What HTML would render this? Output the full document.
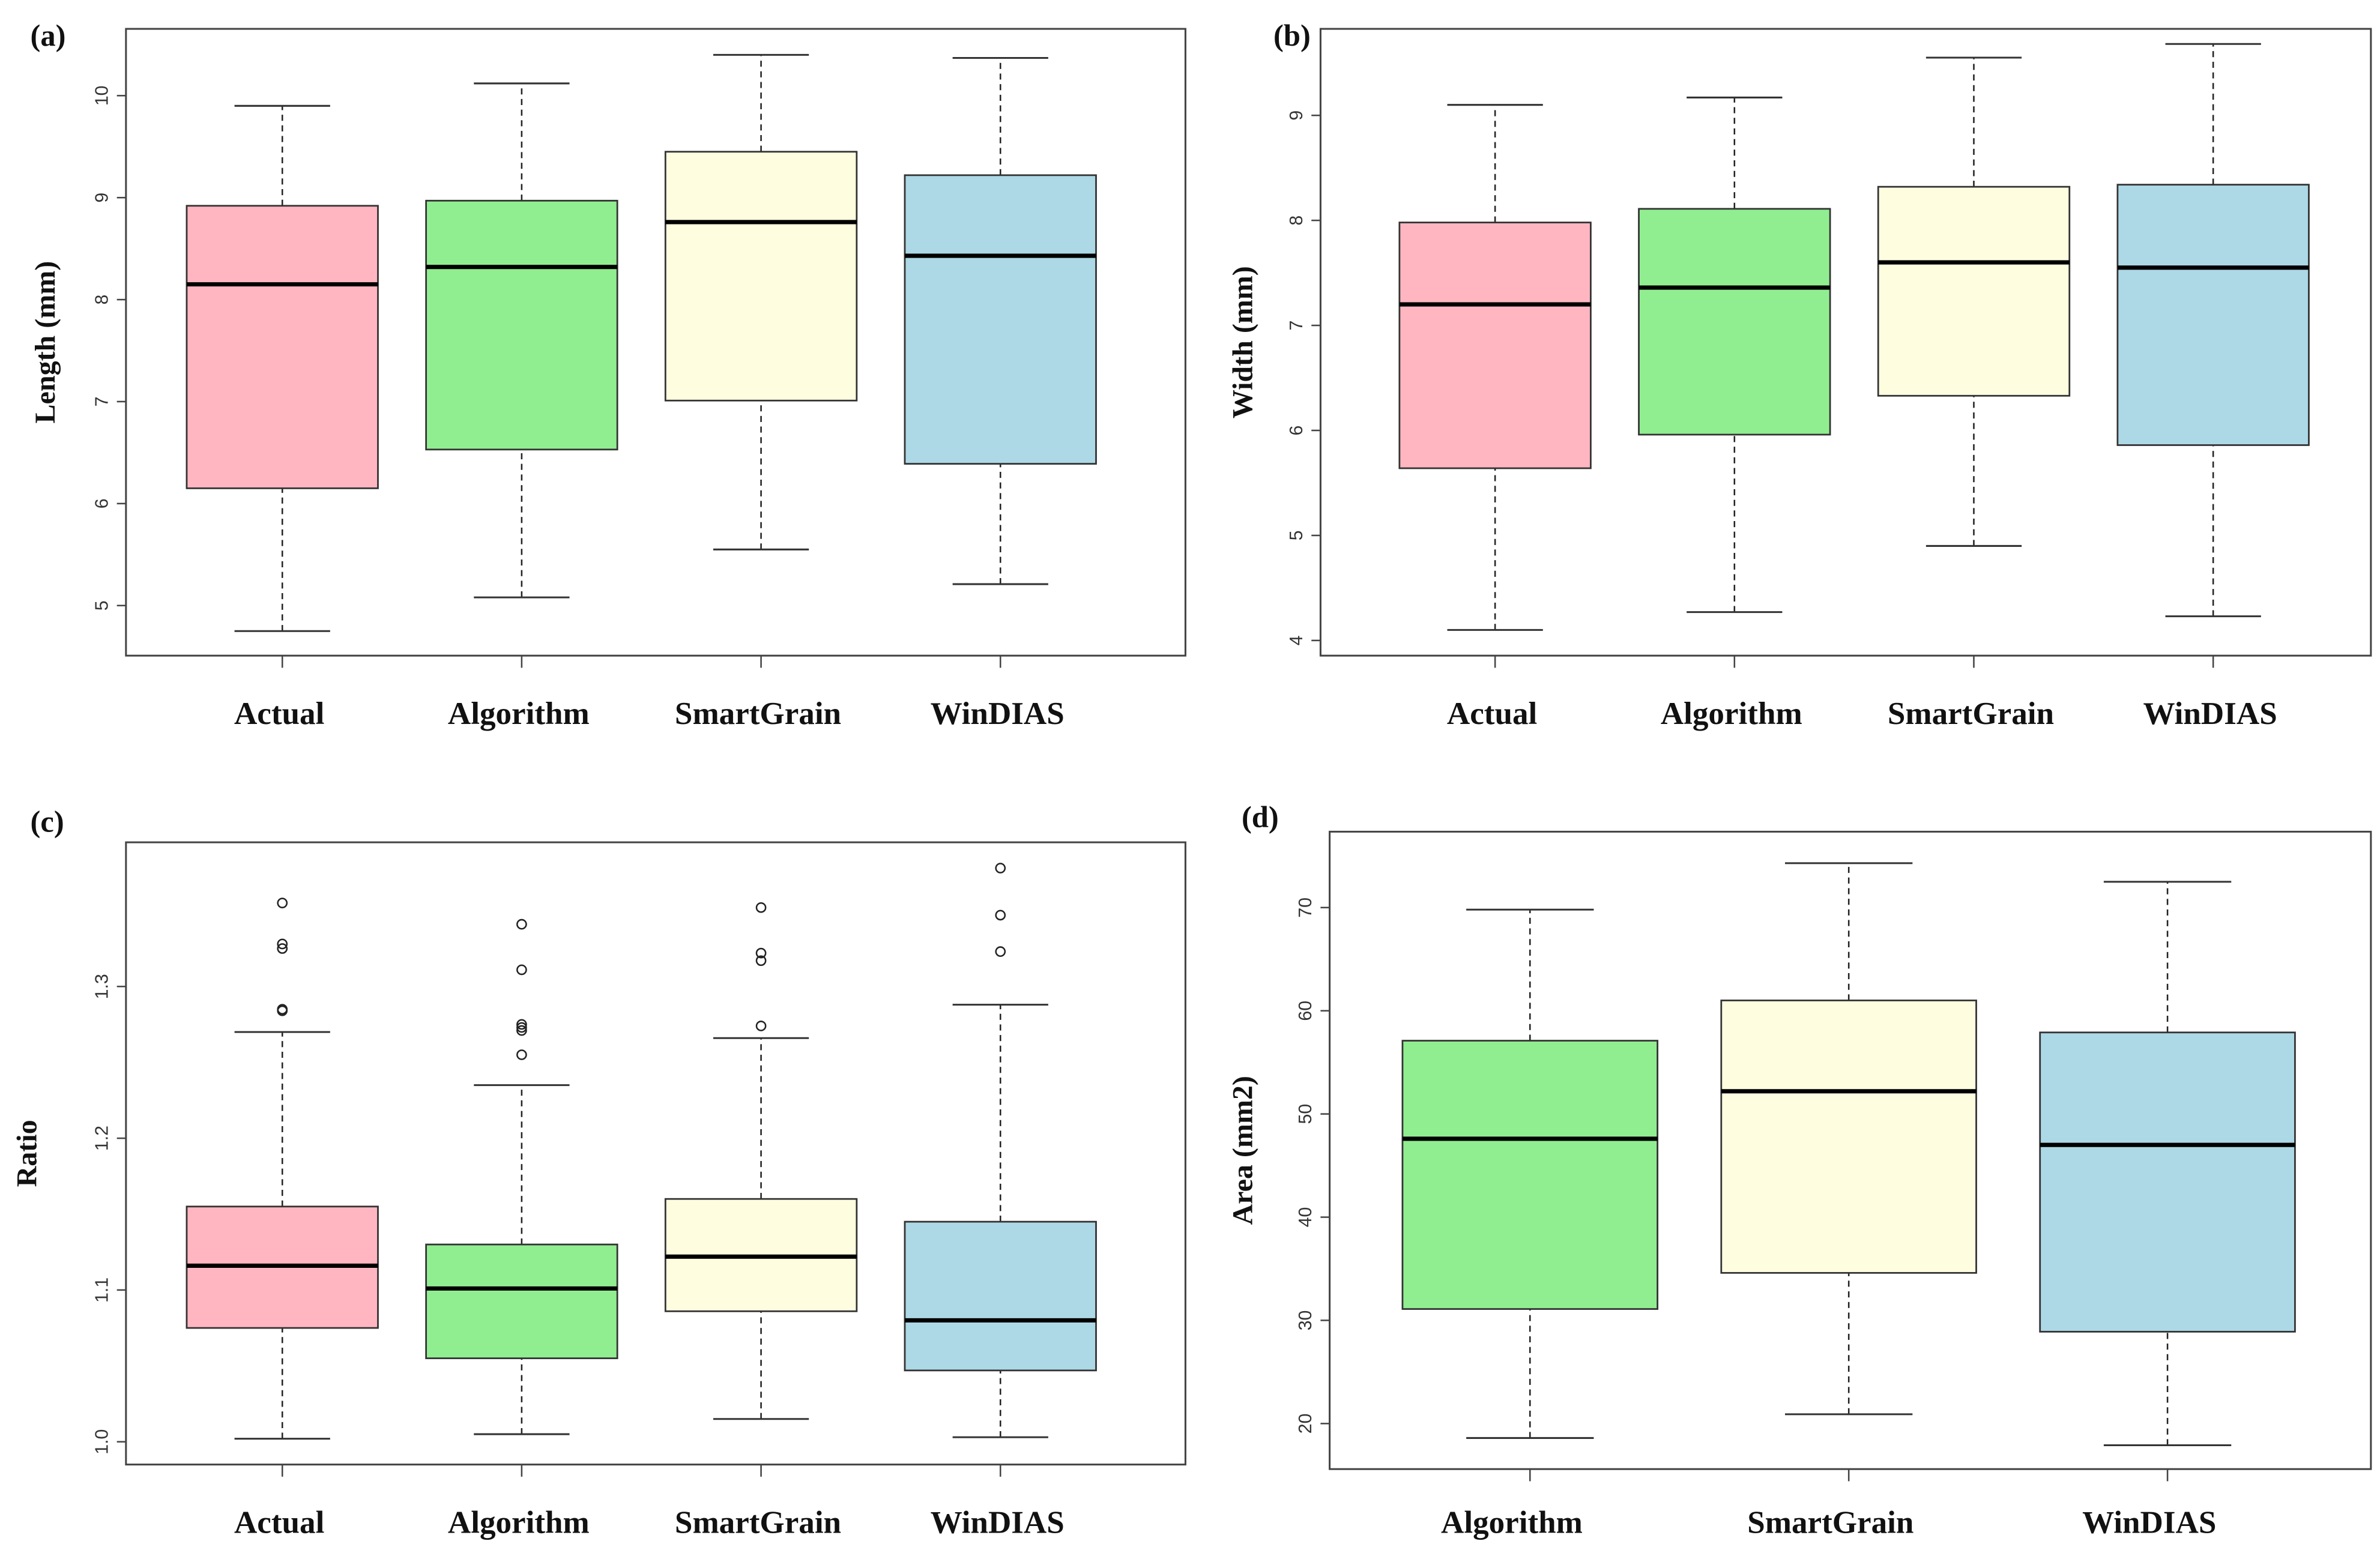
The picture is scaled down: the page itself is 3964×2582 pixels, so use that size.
<!DOCTYPE html>
<html><head><meta charset="utf-8"><style>
html,body{margin:0;padding:0;background:#fff;}
svg{display:block;}
.tick{font-family:"Liberation Sans",sans-serif;font-size:12px;fill:#333;}
.cat{font-family:"Liberation Serif",serif;font-weight:bold;font-size:21px;fill:#111;}
.ttl{font-family:"Liberation Serif",serif;font-weight:bold;font-size:19px;fill:#111;}
.pl{font-family:"Liberation Serif",serif;font-weight:bold;font-size:20px;fill:#111;}
</style></head><body>
<svg id="fig" width="3964" height="2582" viewBox="0 0 1568 1021.3" xmlns="http://www.w3.org/2000/svg"></svg>
<script>
// Panel data
const catsABC = ["Actual","Algorithm","SmartGrain","WinDIAS"];
const catsD = ["Algorithm","SmartGrain","WinDIAS"];
const colorsABC = ["#FFB6C1","#90EE90","#FFFDE0","#ADD8E6"];
const colorsD = ["#90EE90","#FFFDE0","#ADD8E6"];
// [lowWhisker, Q1, median, Q3, highWhisker]
const lengthStats = [[4.75,6.15,8.15,8.92,9.9],[5.08,6.53,8.32,8.97,10.12],[5.55,7.01,8.76,9.45,10.4],[5.21,6.39,8.43,9.22,10.37]];
const widthStats = [[4.1,5.64,7.2,7.98,9.1],[4.27,5.96,7.36,8.11,9.17],[4.9,6.33,7.6,8.32,9.55],[4.23,5.86,7.55,8.34,9.68]];
const ratioStats = [[1.002,1.075,1.116,1.155,1.27],[1.005,1.055,1.101,1.13,1.235],[1.015,1.086,1.122,1.16,1.266],[1.003,1.047,1.08,1.145,1.288]];
const ratioOutliers = [[1.355,1.328,1.325,1.285,1.284],[1.341,1.311,1.275,1.273,1.271,1.255],[1.352,1.322,1.317,1.274],[1.378,1.347,1.323]];
const areaStats = [[18.6,31.1,47.6,57.1,69.8],[20.9,34.6,52.2,61.0,74.3],[17.9,28.9,47.0,57.9,72.5]];
const lengthTicks = [5,6,7,8,9,10];
const widthTicks = [4,5,6,7,8,9];
const ratioTicks = [1.0,1.1,1.2,1.3];
const ratioTickLabels = ["1.0","1.1","1.2","1.3"];
const areaTicks = [20,30,40,50,60,70];

const NS="http://www.w3.org/2000/svg";
const svg=document.getElementById('fig');
function mk(tag,attrs,parent){const e=document.createElementNS(NS,tag);for(const k in attrs)e.setAttribute(k,attrs[k]);(parent||svg).appendChild(e);return e;}

function panel(o){
  const g=mk('g',{});
  
  
  const y=v=>o.y0px+(v-o.y0)*(o.y1px-o.y0px)/(o.y1-o.y0);
  const cx=i=>o.c0+o.step*i;
  const hw=o.hw;
  const frame=mk('rect',{x:o.L,y:o.T,width:o.R-o.L,height:o.B-o.T,fill:'none',stroke:'#444','stroke-width':1.2},g);
  
  
  o.ticks.forEach((t,i)=>{
    const ty=y(t);
    mk('line',{x1:o.L-6,x2:o.L,y1:ty,y2:ty,stroke:'#444','stroke-width':1},g);
    const tx=mk('text',{class:'tick',x:o.L-12,y:ty,transform:`rotate(-90 ${o.L-12} ${ty})`,'text-anchor':'middle'},g);
    tx.textContent=o.tickLabels?o.tickLabels[i]:String(t);
    
    
  });
  o.stats.forEach((s,i)=>{
    const x=cx(i);
    const bg=mk('g',{},g);
    
    
    mk('line',{x1:x,x2:x,y1:y(s[0]),y2:y(s[1]),stroke:'#222','stroke-width':1,'stroke-dasharray':'4,3'},bg);
    mk('line',{x1:x,x2:x,y1:y(s[3]),y2:y(s[4]),stroke:'#222','stroke-width':1,'stroke-dasharray':'4,3'},bg);
    mk('line',{x1:x-hw/2,x2:x+hw/2,y1:y(s[0]),y2:y(s[0]),stroke:'#333','stroke-width':1.2},bg);
    mk('line',{x1:x-hw/2,x2:x+hw/2,y1:y(s[4]),y2:y(s[4]),stroke:'#333','stroke-width':1.2},bg);
    mk('rect',{x:x-hw,y:y(s[3]),width:2*hw,height:y(s[1])-y(s[3]),fill:o.colors[i],stroke:'#333','stroke-width':1.1},bg);
    mk('line',{x1:x-hw,x2:x+hw,y1:y(s[2]),y2:y(s[2]),stroke:'#000','stroke-width':2.8},bg);
    if(o.outliers)o.outliers[i].forEach(v=>{
      const c=mk('circle',{cx:x,cy:y(v),r:3,fill:'none',stroke:'#222','stroke-width':1},bg);
      
      
    });
    mk('line',{x1:x,x2:x,y1:o.B,y2:o.B+8,stroke:'#444','stroke-width':1},g);
    const ct=mk('text',{class:'cat',x:x+o.catDx,y:o.catY,'text-anchor':'middle'},g);
    ct.textContent=o.cats[i];
    
    
  });
  const yt=mk('text',{class:'ttl',x:o.titleX,y:(o.T+o.B)/2,transform:`rotate(-90 ${o.titleX} ${(o.T+o.B)/2})`,'text-anchor':'middle'},g);
  yt.textContent=o.title;
  
  
  const pl=mk('text',{class:'pl',x:o.plX,y:o.plY},g);
  pl.textContent=o.pl;
  
  
}

panel({name:'panel-a-length',L:83,R:781,T:19,B:432,c0:186,step:157.7,hw:63,catY:477,catDx:-2,y0:5,y0px:399,y1:10,y1px:63,ticks:lengthTicks,stats:lengthStats,cats:catsABC,colors:colorsABC,title:'Length (mm)',titleX:36,pl:'(a)',plX:20,plY:30});
panel({name:'panel-b-width',L:870,R:1562,T:19,B:432,c0:985,step:157.7,hw:63,catY:477,catDx:-2,y0:4,y0px:422,y1:9,y1px:76,ticks:widthTicks,stats:widthStats,cats:catsABC,colors:colorsABC,title:'Width (mm)',titleX:825,pl:'(b)',plX:839,plY:30});
panel({name:'panel-c-ratio',L:83,R:781,T:555,B:965,c0:186,step:157.7,hw:63,catY:1010,catDx:-2,y0:1.0,y0px:950,y1:1.3,y1px:650,ticks:ratioTicks,tickLabels:ratioTickLabels,stats:ratioStats,outliers:ratioOutliers,cats:catsABC,colors:colorsABC,title:'Ratio',titleX:24,pl:'(c)',plX:20,plY:548});
panel({name:'panel-d-area',L:876,R:1562,T:548,B:968,c0:1008,step:210,hw:84,catY:1010,catDx:-12,y0:20,y0px:938,y1:70,y1px:598,ticks:areaTicks,stats:areaStats,cats:catsD,colors:colorsD,title:'Area (mm2)',titleX:825,pl:'(d)',plX:818,plY:545});
</script>
</body></html>
